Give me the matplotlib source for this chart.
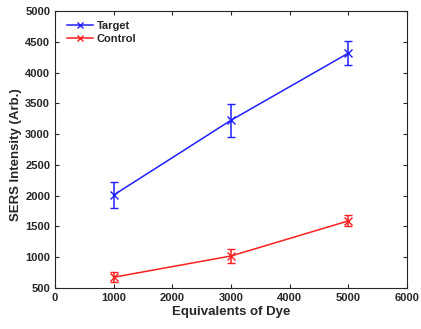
import matplotlib
matplotlib.use("Agg")
import matplotlib.pyplot as plt
from matplotlib.lines import Line2D

plt.rcParams.update({'font.family': 'Liberation Sans', 'font.size': 8, 'font.weight': 'bold'})

dye = [1000, 3000, 5000]
target = [2010, 3225, 4315]
target_err = [210, 270, 200]
control = [675, 1020, 1590]
control_err = [80, 115, 90]

blue = '#1f1fff'
red = '#ff1f1f'
txt = '#262626'

fig = plt.figure(figsize=(4.21, 3.29), dpi=100)
ax = fig.add_axes([55 / 421, 1 - 288 / 329, 352 / 421, 277 / 329])

ax.errorbar(dye, target, yerr=target_err, color=blue, marker='x', ms=6,
            lw=1.1, capsize=3, elinewidth=1.1)
ax.errorbar(dye, control, yerr=control_err, color=red, marker='x', ms=6,
            lw=1.1, capsize=3, elinewidth=1.1)

ax.set_xlim(0, 6000)
ax.set_ylim(500, 5000)
ax.set_xticks(range(0, 6001, 1000))
ax.set_yticks(range(500, 5001, 500))
ax.tick_params(direction='in', top=True, right=True, length=3, colors=txt,
               labelsize=8)
for s in ax.spines.values():
    s.set_color(txt)
    s.set_linewidth(0.8)

ax.set_xlabel('Equivalents of Dye', fontsize=9.5, fontweight='bold', color=txt, labelpad=2)
ax.set_ylabel('SERS Intensity (Arb.)', fontsize=9.5, fontweight='bold', color=txt)
ax.yaxis.set_label_coords(-0.093, 0.48)

handles = [Line2D([], [], color=blue, marker='x', ms=5, lw=1.1),
           Line2D([], [], color=red, marker='x', ms=5, lw=1.1)]
leg = ax.legend(handles, ['Target', 'Control'], loc='upper left', frameon=False,
                fontsize=8, handlelength=2.4, handletextpad=0.3,
                bbox_to_anchor=(0.005, 1.0), labelspacing=0.25)
for t in leg.get_texts():
    t.set_color(txt)

fig.savefig('out.png', dpi=100)
